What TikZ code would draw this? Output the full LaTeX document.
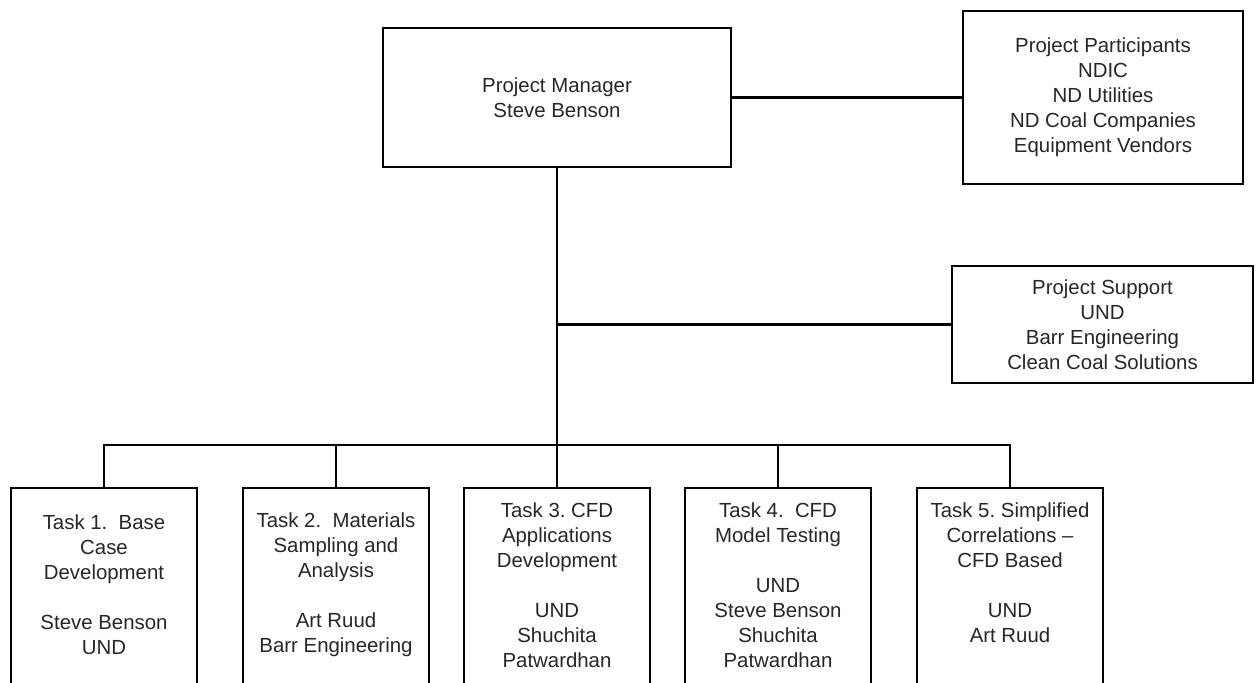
\documentclass[tikz,border=0pt]{standalone}
\usepackage{fontspec}
\setmainfont{Liberation Sans}
\usetikzlibrary{positioning,calc}

\begin{document}
\begin{tikzpicture}[x=0.5pt,y=-0.5pt,line width=1.1pt]
	\tikzstyle{box}=[draw,rectangle,inner sep=0pt]
	\tikzstyle{txt}=[align=center,text=black!85,font=\fontsize{10.2}{12.5}\selectfont]
	\useasboundingbox (0,0) rectangle (1257,683);
	\node[box,txt,minimum width=174pt,minimum height=69.5pt] (pm) at (557,97.5) {Project Manager\\Steve Benson};
	\node[box,txt,minimum width=140pt,minimum height=86.5pt] (part) at (1103,97.5) {Project Participants\\NDIC\\ND Utilities\\ND Coal Companies\\Equipment Vendors};
	\node[box,txt,minimum width=150.5pt,minimum height=58.5pt] (supp) at (1102.5,324.5) {Project Support\\UND\\Barr Engineering\\Clean Coal Solutions};
	\foreach \n/\x/\lbl in {1/104/{Task 1.\ \ Base\\Case\\Development\\[12.5pt]Steve Benson\\UND},
			2/336/{Task 2.\ \ Materials\\Sampling and\\Analysis\\[12.5pt]Art Ruud\\Barr Engineering},
			3/557/{Task 3.\ CFD\\Applications\\Development\\[12.5pt]UND\\Shuchita\\Patwardhan},
			4/778/{Task 4.\ \ CFD\\Model Testing\\[12.5pt]UND\\Steve Benson\\Shuchita\\Patwardhan},
			5/1010/{Task 5.\ Simplified\\Correlations --\\CFD Based\\[12.5pt]UND\\Art Ruud\\ \mbox{}}}
	{
		\node[box,anchor=north,minimum width=93pt,minimum height=115pt] (t\n) at (\x,487) {};
		\node[txt] (txt\n) at (\x,585) {\lbl};
	}
	\coordinate (bus) at (557,445);
	\coordinate (jn) at (557,324.5);

	\draw (pm.east) -- (part.west);
	\draw (pm.south) -- (t3.north);
	\draw (jn) -- (supp.west);
	\draw (t1.north) |- (bus) -| (t5.north);
	\foreach \n in {2,4}
		\draw (t\n.north) -- (t\n.north |- bus);
\end{tikzpicture}
\end{document}
